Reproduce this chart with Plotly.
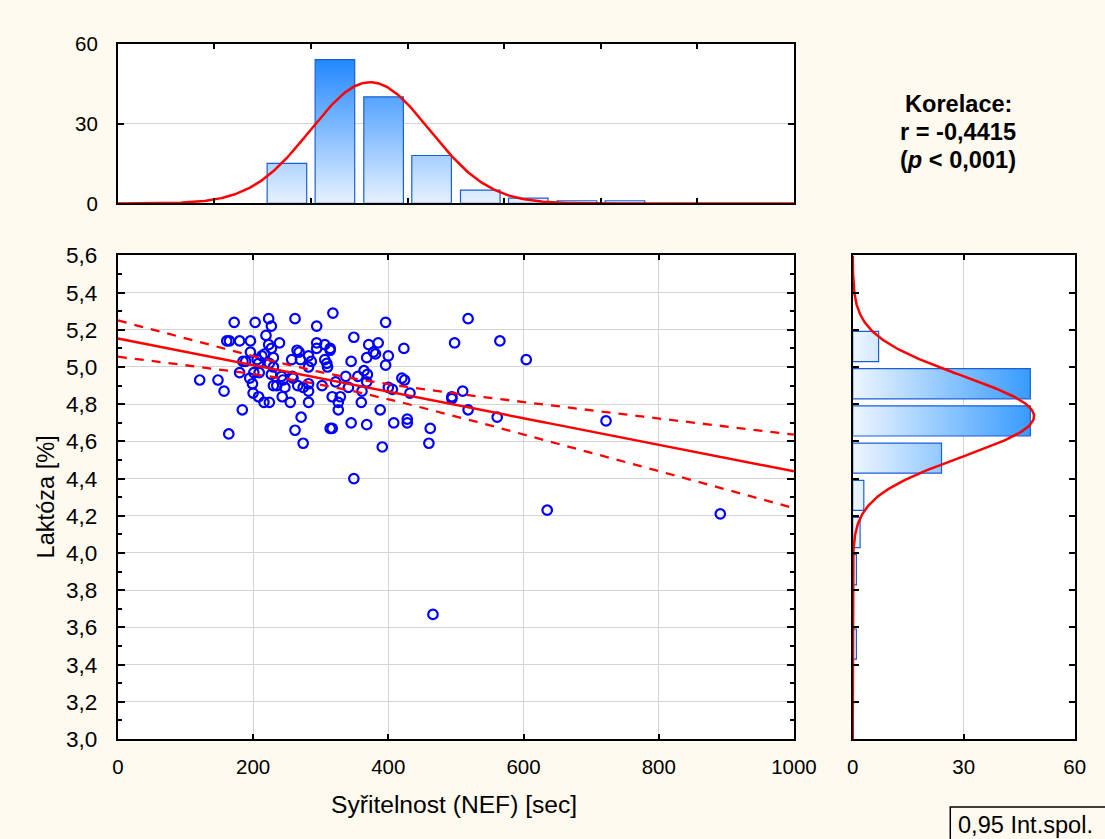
import numpy as np
import plotly.graph_objects as go

W, H = 1105, 839

# ---------------- data ----------------
syritelnost = [121, 148, 157, 164, 184, 172, 203, 223, 227, 219, 262, 294, 318, 396,
               161, 165, 180, 196, 223, 227, 239, 196, 185, 189, 206, 213, 217, 230,
               208, 224, 180, 201, 209, 195, 199, 200, 208, 216, 224, 230, 227, 242,
               244, 230, 235, 247, 243, 255, 265, 268, 257, 270, 258, 259, 266, 274,
               282, 282, 282, 271, 262, 274, 282, 286, 282, 294, 294, 306, 314, 314,
               306, 309, 310, 302, 322, 317, 329, 326, 326, 314, 317, 345, 349, 349,
               345, 337, 341, 355, 361, 360, 364, 369, 368, 368, 371, 378, 381, 385,
               368, 388, 391, 400, 396, 400, 406, 408, 423, 420, 424, 432, 428, 428,
               462, 460, 498, 494, 494, 518, 565, 604, 510, 518, 561, 722, 635, 891, 466]
laktoza = [4.93, 4.93, 4.87, 4.64, 4.77, 5.24, 5.24, 5.26, 5.22, 5.17, 5.26, 5.22, 5.29, 5.24,
           5.14, 5.14, 5.14, 5.14, 5.12, 5.10, 5.13, 5.08, 5.03, 5.03, 5.04, 5.06, 5.07, 5.05,
           5.02, 5.02, 4.97, 4.97, 4.97, 4.94, 4.91, 4.86, 4.84, 4.81, 4.81, 5.00, 4.96, 4.95,
           4.93, 4.90, 4.90, 4.89, 4.84, 4.81, 5.09, 5.08, 5.04, 5.04, 4.95, 4.94, 4.90, 4.89,
           4.91, 4.87, 4.81, 4.73, 4.66, 4.59, 5.06, 5.03, 5.00, 5.13, 5.10, 5.12, 5.10, 5.09,
           5.04, 5.02, 5.00, 4.90, 4.92, 4.84, 4.84, 4.81, 4.77, 4.67, 4.67, 4.70, 4.40, 5.16,
           5.03, 4.95, 4.89, 4.95, 4.87, 4.81, 4.98, 4.96, 4.92, 4.69, 5.12, 5.08, 5.07, 5.13,
           5.05, 4.77, 4.57, 5.06, 5.01, 4.89, 4.88, 4.70, 5.10, 4.94, 4.93, 4.86, 4.72, 4.70,
           4.67, 4.59, 5.13, 4.84, 4.83, 5.26, 5.14, 5.04, 4.87, 4.77, 4.73, 4.71, 4.23, 4.21, 3.67]

# top histogram (Syřitelnost)
x_bin_centers = [250, 321, 393, 464, 536, 607, 679, 750]
x_counts = [15, 54, 40, 18, 5, 2, 1, 1]
X_BIN_WIDTH = 1000 / 14

# right histogram (Laktóza)
y_bin_centers = [5.11, 4.91, 4.71, 4.51, 4.31, 4.11, 3.91, 3.51]
y_counts = [7, 48, 48, 24, 3, 2, 1, 1]
Y_BIN_WIDTH = 0.2

# fitted normal curves (parameters)
NX_MEAN, NX_SD, NX_PEAK = 373.0, 88.0, 45.5
NY_MEAN, NY_SD, NY_PEAK = 4.735, 0.217, 49.0

# regression line and 0.95 confidence band
REG_B0, REG_B1 = 5.153, -0.000714
CI_XM, CI_MIN, CI_K = 320.0, 0.033, 8.2e-8

x_ticks = [0, 200, 400, 600, 800, 1000]
y_ticks = [3.0, 3.2, 3.4, 3.6, 3.8, 4.0, 4.2, 4.4, 4.6, 4.8, 5.0, 5.2, 5.4, 5.6]
y_tick_text = ["3,0", "3,2", "3,4", "3,6", "3,8", "4,0", "4,2", "4,4", "4,6", "4,8",
               "5,0", "5,2", "5,4", "5,6"]
hist_ticks = [0, 30, 60]

# ---------------- styling ----------------
FONT = "Liberation Sans, Arial, sans-serif"
BG = "#FFFAEF"
GRID = "#d4d4d4"
RED = "#ff0000"
BLUE = "#0000ff"

# the page is photographed slightly scaled; map wanted screen pixels to layout
SX, OX = 0.978, 4.6
SY, OY = 0.971, 12.4


def px_x(p):
    return ((p - OX) / SX) / W


def px_y(p):
    return 1 - ((p - OY) / SY) / H


def fs(s):
    return s / 0.975


fig = go.Figure()

# scatter points
fig.add_trace(go.Scatter(
    x=syritelnost, y=laktoza, mode="markers",
    marker=dict(symbol="circle-open", size=9.5, color=BLUE, line=dict(width=2.2, color=BLUE)),
    xaxis="x", yaxis="y", showlegend=False, hoverinfo="x+y"))

# regression + CI
xs = np.linspace(0, 1000, 201)
yhat = REG_B0 + REG_B1 * xs
hw = np.sqrt(CI_MIN ** 2 + CI_K * (xs - CI_XM) ** 2)
fig.add_trace(go.Scatter(x=xs, y=yhat, mode="lines", line=dict(color=RED, width=2.5),
                         xaxis="x", yaxis="y", showlegend=False))
for sgn in (1, -1):
    fig.add_trace(go.Scatter(x=xs, y=yhat + sgn * hw, mode="lines",
                             line=dict(color=RED, width=2.3, dash="9px,8px"),
                             xaxis="x", yaxis="y", showlegend=False))

# top histogram bars (polygons with gradient fill)
bw = X_BIN_WIDTH * 0.82
bx, by = [], []
for c, n in zip(x_bin_centers, x_counts):
    bx += [c - bw / 2, c - bw / 2, c + bw / 2, c + bw / 2, c - bw / 2, None]
    by += [0, n, n, 0, 0, None]
fig.add_trace(go.Scatter(
    x=bx, y=by, mode="lines", fill="toself",
    fillgradient=dict(type="vertical", colorscale=[[0, "#eef6ff"], [1, "#1f86ff"]],
                      start=0, stop=55),
    line=dict(color="#1a5fd6", width=1.2), xaxis="x2", yaxis="y2", showlegend=False))

xn = np.linspace(0, 1000, 400)
fig.add_trace(go.Scatter(x=xn, y=NX_PEAK * np.exp(-0.5 * ((xn - NX_MEAN) / NX_SD) ** 2),
                         mode="lines", line=dict(color=RED, width=2.5),
                         xaxis="x2", yaxis="y2", showlegend=False))

# right histogram bars
bh = Y_BIN_WIDTH * 0.81
rx, ry = [], []
for c, n in zip(y_bin_centers, y_counts):
    rx += [0, n, n, 0, 0, None]
    ry += [c - bh / 2, c - bh / 2, c + bh / 2, c + bh / 2, c - bh / 2, None]
fig.add_trace(go.Scatter(
    x=rx, y=ry, mode="lines", fill="toself",
    fillgradient=dict(type="horizontal", colorscale=[[0, "#eef6ff"], [1, "#3399ff"]],
                      start=0, stop=48),
    line=dict(color="#1a5fd6", width=1.2), xaxis="x3", yaxis="y3", showlegend=False))

yn = np.linspace(3.0, 5.6, 400)
fig.add_trace(go.Scatter(x=NY_PEAK * np.exp(-0.5 * ((yn - NY_MEAN) / NY_SD) ** 2), y=yn,
                         mode="lines", line=dict(color=RED, width=2.5),
                         xaxis="x3", yaxis="y3", showlegend=False))

axis_common = dict(showline=True, linecolor="black", linewidth=2, ticks="inside",
                   tickcolor="black", tickwidth=2, zeroline=False, showgrid=True,
                   gridcolor=GRID, gridwidth=1,
                   tickfont=dict(family=FONT, size=fs(20), color="black"))

sc_x = [px_x(117), px_x(796)]
rh_x = [px_x(855), px_x(1078)]
sc_y = [px_y(740), px_y(256)]
th_y = [px_y(204), px_y(44)]

fig.update_layout(
    width=W, height=H, margin=dict(l=0, r=0, t=0, b=0),
    paper_bgcolor=BG, plot_bgcolor="white", showlegend=False,
    xaxis=dict(axis_common, domain=sc_x, range=[0, 1000], tickvals=x_ticks,
               ticktext=[str(v) for v in x_ticks], mirror="ticks", ticklen=5,
               ticklabelstandoff=8, anchor="y"),
    yaxis=dict(axis_common, domain=sc_y, range=[3.0, 5.6], tickvals=y_ticks,
               ticktext=y_tick_text, mirror="ticks", ticklen=7, ticklabelstandoff=14,
               tickfont=dict(family=FONT, size=fs(22), color="black"),
               minor=dict(dtick=0.1, ticks="inside", ticklen=4, tickcolor="black",
                          showgrid=False),
               anchor="x"),
    xaxis2=dict(axis_common, domain=sc_x, range=[0, 1000],
                tickvals=[k * 1000 / 7 for k in range(8)], showticklabels=False,
                showgrid=False, mirror="ticks", ticklen=5, anchor="y2"),
    yaxis2=dict(axis_common, domain=th_y, range=[0, 60], tickvals=hist_ticks,
                ticktext=[str(v) for v in hist_ticks], mirror="ticks", ticklen=6,
                ticklabelstandoff=14, tickfont=dict(family=FONT, size=fs(20), color="black"),
                anchor="x2"),
    xaxis3=dict(axis_common, domain=rh_x, range=[0, 60], tickvals=hist_ticks,
                ticktext=[str(v) for v in hist_ticks], mirror="ticks", ticklen=5,
                ticklabelstandoff=8, anchor="y3"),
    yaxis3=dict(axis_common, domain=sc_y, range=[3.0, 5.6], tickvals=y_ticks,
                showticklabels=False, showgrid=False, mirror="ticks", ticklen=6,
                anchor="x3"),
)

# legend-like box at bottom right (runs past the page edge like the original)
fig.add_shape(type="rect", xref="paper", yref="paper",
              x0=px_x(953), x1=px_x(1125), y0=px_y(860), y1=px_y(808),
              line=dict(color="black", width=1.5), fillcolor="rgba(0,0,0,0)")

annots = [
    dict(text="Syřitelnost (NEF) [sec]", x=px_x(455), y=px_y(806),
         font=dict(family=FONT, size=fs(24), color="black")),
    dict(text="Laktóza [%]", x=px_x(45), y=px_y(498), textangle=-90,
         font=dict(family=FONT, size=fs(23), color="black")),
    dict(text="<b>Korelace:</b>", x=px_x(961), y=px_y(104),
         font=dict(family=FONT, size=fs(23), color="black")),
    dict(text="<b>r = -0,4415</b>", x=px_x(961), y=px_y(132),
         font=dict(family=FONT, size=fs(23), color="black")),
    dict(text="<b>(<i>p</i> &lt; 0,001)</b>", x=px_x(961), y=px_y(161),
         font=dict(family=FONT, size=fs(23), color="black")),
    dict(text="0,95 Int.spol.", x=px_x(959), y=px_y(826), xanchor="left",
         font=dict(family=FONT, size=fs(23), color="black")),
]
for a in annots:
    a.setdefault("xanchor", "center")
    a.setdefault("yanchor", "middle")
    fig.add_annotation(xref="paper", yref="paper", showarrow=False, **a)

fig.write_html(
    "out.html",
    post_script="document.documentElement.style.margin='0';"
                "document.documentElement.style.overflow='hidden';"
                "document.body.style.margin='0';document.body.style.padding='0';"
                "document.body.style.overflow='hidden';",
)
